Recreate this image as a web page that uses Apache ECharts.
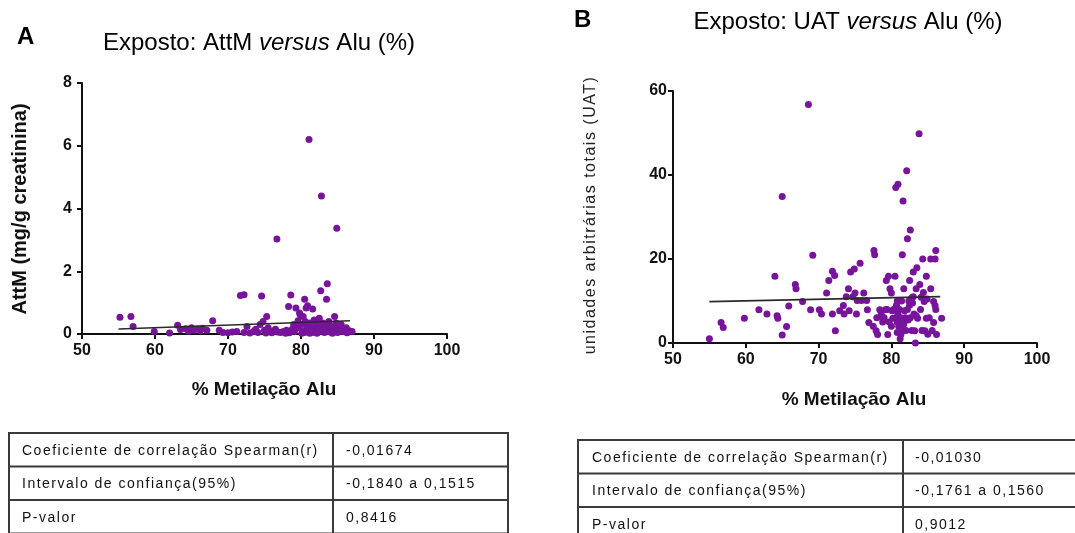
<!DOCTYPE html>
<html>
<head>
<meta charset="utf-8">
<title>Exposto: AttM / UAT versus Alu (%)</title>
<script src="https://cdn.jsdelivr.net/npm/echarts@6.0.0/dist/echarts.min.js"></script>
<style>
  html, body { margin: 0; padding: 0; background: #fff; }
  #wrap { position: relative; width: 1075px; height: 533px; overflow: hidden; }
  #main, #tracked { position: absolute; left: 0; top: 0; width: 1075px; height: 533px; }
  #tracked { pointer-events: none; }
  /* the tables and the UAT axis name use tracked type */
  #tracked text { letter-spacing: 1.5px; }
</style>
</head>
<body>
<div id="wrap">
  <div id="main"></div>
  <div id="tracked"></div>
</div>
<script>
// ---- data -------------------------------------------------------------
// x ticks of both panels (% Metilação Alu)
const xTicks = [50, 60, 70, 80, 90, 100];

// Panel A: % Alu methylation vs AttM (mg/g creatinina)
const pointsA = [
  [55.2,0.53],[56.7,0.56],[57.0,0.24],[59.9,0.08],[62.0,0.03],[63.1,0.28],[63.5,0.14],[64.2,0.17],
  [64.6,0.09],[65.0,0.2],[65.3,0.12],[65.8,0.16],[66.2,0.1],[66.5,0.18],[67.1,0.12],[67.9,0.42],
  [68.8,0.12],[69.3,0.05],[70.0,0.04],[70.6,0.06],[71.2,0.08],[71.7,1.23],[72.2,1.25],[72.6,0.24],
  [72.2,0.05],[73.0,0.03],[73.5,0.08],[73.8,0.15],[74.1,0.05],[74.4,0.3],[74.6,1.21],[74.8,0.4],
  [75.0,0.12],[75.3,0.56],[75.5,0.2],[75.7,0.08],[76.0,0.04],[76.3,0.1],[76.7,3.03],[76.8,0.06],
  [77.2,0.05],[77.6,0.08],[78.0,0.12],[78.3,0.88],[78.6,1.24],[78.4,0.04],[78.8,0.15],[79.1,0.08],
  [79.3,0.83],[79.5,0.2],[79.8,0.67],[79.9,0.61],[80.0,0.3],[80.2,0.1],[80.3,0.56],[80.5,1.11],
  [80.5,0.05],[80.7,0.83],[80.9,0.9],[80.8,0.25],[81.0,0.15],[81.1,6.2],[81.2,0.02],[81.3,0.35],
  [81.5,0.1],[81.6,0.8],[81.7,0.2],[81.9,0.05],[82.0,0.4],[82.1,0.15],[82.3,0.28],[82.4,0.08],
  [82.6,0.2],[82.7,1.38],[82.8,4.4],[82.9,0.1],[83.0,0.35],[83.2,0.05],[83.3,0.22],[83.5,1.11],
  [83.6,1.6],[83.7,0.12],[83.9,0.3],[84.0,0.06],[84.2,0.18],[84.4,0.1],[84.6,0.56],[84.7,0.25],
  [84.9,3.37],[85.0,0.05],[85.2,0.15],[85.5,0.3],[85.7,0.08],[86.0,0.12],[86.3,0.04],[86.6,0.1],
  [87.0,0.08],[75.2,0.03],[76.5,0.15],[77.9,0.02],[79.0,0.3],[80.1,0.02],[81.4,0.05],[82.2,0.02],
  [83.1,0.15],[84.3,0.02],[85.4,0.1],[86.2,0.2],[80.6,0.4],[81.8,0.45],[82.5,0.5],[83.8,0.4],
  [79.6,0.42],[84.8,0.35]
];
// linear fit through panel A (end points)
const fitA = [[55.0, 0.16], [86.7, 0.42]];

// Panel B: % Alu methylation vs UAT
const pointsB = [
  [55.0,1.0],[56.6,4.9],[56.9,3.7],[59.8,5.9],[61.8,7.9],[62.9,6.9],[64.0,15.9],[64.3,6.5],
  [64.4,5.9],[65.0,34.9],[65.0,1.9],[65.6,3.9],[65.9,8.8],[66.8,13.9],[66.9,12.9],[67.8,9.9],
  [68.6,56.8],[68.9,7.9],[69.2,20.9],[70.1,7.9],[70.4,6.9],[71.1,11.9],[71.4,14.9],[71.9,17.1],
  [72.2,16.1],[71.9,6.9],[72.3,2.9],[72.9,7.7],[73.4,8.9],[73.5,6.9],[73.8,11.0],[74.1,12.9],
  [74.2,7.7],[74.4,16.9],[74.9,17.6],[74.7,11.0],[75.0,11.9],[75.2,6.9],[75.3,10.1],[75.7,19.0],
  [75.9,10.1],[76.2,11.9],[76.6,10.1],[76.7,7.9],[76.9,4.9],[77.5,4.0],[77.6,22.0],[77.7,21.0],
  [77.9,2.9],[78.1,2.0],[78.4,7.9],[78.6,6.9],[78.9,5.9],[79.3,14.9],[79.6,15.9],[79.5,2.0],
  [79.8,12.9],[80.0,11.9],[80.1,7.7],[80.2,5.9],[80.5,15.9],[80.6,37.0],[80.8,10.0],[80.9,37.8],
  [80.9,6.9],[81.2,3.9],[81.3,2.0],[81.5,21.0],[81.6,33.8],[81.7,12.9],[81.8,7.7],[82.0,5.9],
  [82.1,41.0],[82.2,24.8],[82.4,10.0],[82.5,14.9],[82.6,26.9],[82.8,10.8],[83.0,16.9],[83.1,6.9],
  [83.2,2.9],[83.3,0.0],[83.4,12.9],[83.5,17.9],[83.6,5.9],[83.8,49.8],[83.9,13.9],[84.1,10.9],
  [84.3,20.0],[84.5,9.9],[84.6,2.9],[84.8,15.9],[84.8,5.9],[85.0,2.1],[85.4,20.0],[85.4,12.9],
  [85.8,9.9],[85.8,4.9],[86.0,20.0],[86.0,8.9],[86.1,22.0],[86.2,2.0],[86.9,5.9],
  [79.0,6.0],[79.4,8.0],[79.7,5.0],[80.0,4.0],[80.3,8.0],[80.6,6.0],[80.8,5.0],[81.0,4.0],
  [81.1,8.0],[81.3,6.0],[81.5,5.0],[81.6,3.0],[81.9,6.0],[82.0,3.0],[82.2,8.0],[82.5,9.0],
  [82.6,6.0],[82.8,3.0],[82.9,9.5],[83.0,11.0],[81.4,10.0],[80.4,8.0],[81.7,4.5],[82.3,5.5],
  [83.4,6.5],[84.0,8.0],[84.2,3.0],[84.4,12.0],[85.2,6.0],[85.6,3.0],[86.1,8.0],[84.9,10.5],
  [78.0,6.0],[78.8,5.0],[79.2,8.0],[80.7,9.0],[81.2,1.0],[80.8,2.5]
];
// linear fit through panel B (end points)
const fitB = [[55.0, 9.85], [86.7, 11.05]];

// Spearman summary tables
const statLabels = ['Coeficiente de correlação Spearman(r)', 'Intervalo de confiança(95%)', 'P-valor'];
const statsA = ['-0,01674', '-0,1840 a 0,1515', '0,8416'];
const statsB = ['-0,01030', '-0,1761 a 0,1560', '0,9012'];

// ---- styling helpers --------------------------------------------------
const INK = '#111';
const DOT = '#78139b';
const FONT = 'Liberation Sans, Arial, sans-serif';

function xAxisFor(gridIndex) {
  return {
    gridIndex, type: 'value', min: xTicks[0], max: xTicks[xTicks.length - 1], interval: 10,
    axisLine: { show: true, onZero: false, lineStyle: { color: INK, width: 2 } },
    axisTick: { show: true, inside: false, length: 5, lineStyle: { color: INK, width: 2 } },
    axisLabel: { margin: 9, fontSize: 16, fontWeight: 'bold', color: INK, fontFamily: FONT },
    splitLine: { show: false }
  };
}
function yAxisFor(gridIndex, max, interval, margin) {
  return {
    gridIndex, type: 'value', min: 0, max, interval,
    axisLine: { show: true, onZero: false, lineStyle: { color: INK, width: 2 } },
    axisTick: { show: true, inside: false, length: 5, lineStyle: { color: INK, width: 2 } },
    axisLabel: { margin, fontSize: 16, fontWeight: 'bold', color: INK, fontFamily: FONT },
    splitLine: { show: false }
  };
}
function scatter(idx, data) {
  return {
    type: 'scatter', xAxisIndex: idx, yAxisIndex: idx, data,
    symbol: 'circle', symbolSize: 7, itemStyle: { color: DOT, opacity: 1 }, z: 3
  };
}
function fitLine(idx, data) {
  return {
    type: 'line', xAxisIndex: idx, yAxisIndex: idx, data, symbol: 'none',
    lineStyle: { color: '#2a2a2a', width: 1.6 }, z: 4, silent: true
  };
}
function txt(x, y, text, opts) {
  return {
    type: 'text', x, y, silent: true, rotation: opts.rotation || 0,
    style: Object.assign({
      text, fill: INK, fontFamily: FONT,
      align: opts.align || 'left', textAlign: opts.align || 'left',
      verticalAlign: 'middle', textVerticalAlign: 'middle'
    }, opts.style)
  };
}

// ---- charts -----------------------------------------------------------
const chart = echarts.init(document.getElementById('main'), null, { renderer: 'canvas' });
const titleRich = { i: { fontStyle: 'italic', fontSize: 24, fontFamily: FONT, fill: '#000' } };
chart.setOption({
  animation: false,
  backgroundColor: '#fff',
  grid: [
    { left: 82, top: 83, width: 365, height: 251 },
    { left: 673, top: 91, width: 364, height: 252 }
  ],
  xAxis: [xAxisFor(0), xAxisFor(1)],
  yAxis: [yAxisFor(0, 8, 2, 10), yAxisFor(1, 60, 20, 6)],
  series: [scatter(0, pointsA), fitLine(0, fitA), scatter(1, pointsB), fitLine(1, fitB)],
  graphic: [
    txt(17, 37, 'A', { style: { fontSize: 24, fontWeight: 'bold', fill: '#000' } }),
    txt(259, 43, 'Exposto: AttM {i|versus} Alu (%)', { align: 'center', style: { fontSize: 24, fill: '#000', rich: titleRich } }),
    txt(574, 20, 'B', { style: { fontSize: 24, fontWeight: 'bold', fill: '#000' } }),
    txt(848, 22, 'Exposto: UAT {i|versus} Alu (%)', { align: 'center', style: { fontSize: 24, fill: '#000', rich: titleRich } }),
    txt(20, 209, 'AttM (mg/g creatinina)', { align: 'center', rotation: Math.PI / 2, style: { fontSize: 20, fontWeight: 'bold' } }),
    txt(264, 390, '% Metilação Alu', { align: 'center', style: { fontSize: 19, fontWeight: 'bold' } }),
    txt(854, 400, '% Metilação Alu', { align: 'center', style: { fontSize: 19, fontWeight: 'bold' } })
  ]
});

// tables and the UAT axis name (tracked text, drawn as SVG)
const tracked = echarts.init(document.getElementById('tracked'), null, { renderer: 'svg' });
function tableGraphics(left, right, divider, top, rowH, labels, values, textX, valueX) {
  const g = [];
  const line = { stroke: '#3a3a3a', lineWidth: 2 };
  const bottom = top + rowH * labels.length;
  g.push({ type: 'rect', shape: { x: left, y: top, width: right - left, height: bottom - top }, style: Object.assign({ fill: 'none' }, line), silent: true });
  for (let r = 1; r < labels.length; r++) {
    g.push({ type: 'line', shape: { x1: left, y1: top + rowH * r, x2: right, y2: top + rowH * r }, style: line, silent: true });
  }
  g.push({ type: 'line', shape: { x1: divider, y1: top, x2: divider, y2: bottom }, style: line, silent: true });
  labels.forEach((lab, r) => {
    const cy = top + rowH * r + rowH / 2;
    g.push(txt(textX, cy, lab, { style: { fontSize: 14, fill: '#111' } }));
    g.push(txt(valueX, cy, values[r], { style: { fontSize: 14, fill: '#111' } }));
  });
  return g;
}
tracked.setOption({
  animation: false,
  graphic: [].concat(
    tableGraphics(9, 508, 333, 433, 33.5, statLabels, statsA, 22, 346),
    tableGraphics(578, 1085, 903, 440, 33.5, statLabels, statsB, 592, 915),
    [txt(589, 215, 'unidades arbitrárias totais (UAT)', { align: 'center', rotation: Math.PI / 2, style: { fontSize: 16, fill: '#222' } })]
  )
});
</script>
</body>
</html>
